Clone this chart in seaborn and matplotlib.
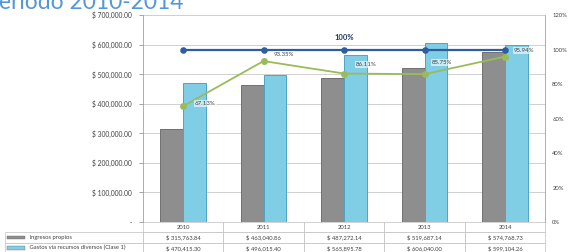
import pandas as pd
import seaborn as sns
import matplotlib.pyplot as plt
from matplotlib.patches import Rectangle
from matplotlib.ticker import FuncFormatter, MultipleLocator

# data (values in thousands of pesos)
years = ['2010', '2011', '2012', '2013', '2014']
ingresos = [315763.84, 463040.86, 487272.14, 519687.14, 574768.73]
gastos = [470415.30, 496015.40, 565895.78, 606040.00, 599104.26]
meta_pct = [1.0, 1.0, 1.0, 1.0, 1.0]
cobertura_pct = [0.6713, 0.9335, 0.8611, 0.8575, 0.9594]
series_names = ['Ingresos propios', 'Gastos vía recursos diversos (Clase 1)']

GRAY = '#8e8e8e'
BLUE = '#80cde6'
DARK_BLUE = '#2f5e9e'
GREEN = '#9bbb59'

sns.set_style('white')
plt.rcParams['font.family'] = ['Lato', 'DejaVu Sans']

df = pd.DataFrame({
    'year': years * 2,
    'value': ingresos + gastos,
    'serie': [series_names[0]] * 5 + [series_names[1]] * 5,
})

fig = plt.figure(figsize=(5.71, 2.52), dpi=100)
ax = fig.add_axes([0.25, 0.119, 0.705, 0.821])

sns.barplot(data=df, x='year', y='value', hue='serie', order=years,
            palette=[GRAY, BLUE], saturation=1, width=0.57, gap=0, ax=ax,
            legend=False, edgecolor=None, linewidth=0)
for bar, ec in zip(ax.patches, ['#707070'] * 5 + ['#4ea4c4'] * 5):
    bar.set_edgecolor(ec)
    bar.set_linewidth(0.7)

ax.set_ylim(0, 700000)
ax.yaxis.set_major_locator(MultipleLocator(100000))
ax.yaxis.set_major_formatter(FuncFormatter(
    lambda v, p: '-' if v == 0 else f'$ {v:,.2f}'))
ax.set_xlabel('')
ax.set_ylabel('')
ax.set_xticklabels([])
ax.tick_params(axis='x', length=0)
ax.tick_params(axis='y', labelsize=4.8, length=3, width=0.5, color='#808080',
               left=True, pad=5, labelcolor='#404040')
ax.grid(axis='y', color='#c8c8c8', linewidth=0.6)
ax.set_axisbelow(True)
for s in ax.spines.values():
    s.set_color('#a0a0a0')
    s.set_linewidth(0.6)
ax.spines['top'].set_visible(False)
ax.spines['bottom'].set_visible(False)

ax2 = ax.twinx()
sns.pointplot(x=years, y=meta_pct, color=DARK_BLUE, markers='o',
              markersize=3.5, linewidth=1.6, ax=ax2)
sns.pointplot(x=years, y=cobertura_pct, color=GREEN, markers='o',
              markersize=4, linewidth=1.3, ax=ax2)
for line in ax2.lines[-1:]:
    line.set_markeredgecolor('#6e8c2c')
ax2.set_ylim(0, 1.2)
ax2.yaxis.set_major_locator(MultipleLocator(0.2))
ax2.yaxis.set_major_formatter(FuncFormatter(lambda v, p: f'{v * 100:.0f}%'))
ax2.tick_params(axis='y', labelsize=4.2, length=0, pad=5, labelcolor='#404040')
for s in ax2.spines.values():
    s.set_visible(False)

ax2.annotate('100%', (2, meta_pct[2]), textcoords='offset pixels',
             xytext=(0, 9), ha='center', va='bottom', fontsize=5.5,
             fontweight='bold', color='#1f3864')
label_offsets = [(12, 3), (10, 7), (12, 9), (7, 12), (9, 6)]
for i, (v, off) in enumerate(zip(cobertura_pct, label_offsets)):
    ax2.annotate(f'{v * 100:.2f}%', (i, v), textcoords='offset pixels',
                 xytext=off, ha='left', va='center', fontsize=4.4,
                 color='#404040',
                 bbox=dict(boxstyle='square,pad=0.15', fc='white',
                           ec='none', alpha=0.6))

# data table under the plot
lab_w = 138 / 402
row_h = 0.05
cell_text = [[''] + years,
             ['               ' + series_names[0]] + [f'$ {v:,.2f}' for v in ingresos],
             ['               ' + series_names[1]] + [f'$ {v:,.2f}' for v in gastos]]
tbl = ax.table(cellText=cell_text, cellLoc='center',
               colWidths=[lab_w] + [0.2] * 5,
               bbox=[-lab_w, -3 * row_h, 1 + lab_w, 3 * row_h])
tbl.auto_set_font_size(False)
tbl.set_fontsize(4.2)
for (r, c), cell in tbl.get_celld().items():
    cell.set_edgecolor('#bfbfbf')
    cell.set_linewidth(0.5)
    cell.get_text().set_color('#404040')
    if c == 0:
        cell.get_text().set_ha('left')
        cell.PAD = 0.02
    if r == 0 and c == 0:
        cell.visible_edges = ''

for i, col in enumerate([GRAY, BLUE]):
    ax.add_patch(Rectangle((-lab_w + 0.006, -(i + 1.5) * row_h - 0.008),
                           0.045, 0.016, transform=ax.transAxes,
                           facecolor=col, edgecolor='#707070', lw=0.3,
                           clip_on=False))

fig.text(-0.024, 0.966, 'periodo 2010-2014', fontsize=16.5, color='#5597d6',
         va='baseline', ha='left')

fig.savefig('out.png', dpi=100)
